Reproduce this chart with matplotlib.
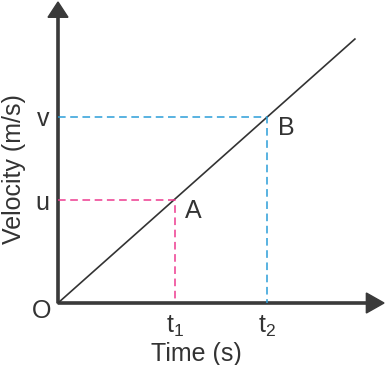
import matplotlib
matplotlib.use('Agg')
import matplotlib.pyplot as plt

plt.rcParams['font.family'] = ['Liberation Sans', 'DejaVu Sans']
plt.rcParams['mathtext.fontset'] = 'custom'
plt.rcParams['mathtext.rm'] = 'Liberation Sans'
plt.rcParams['mathtext.it'] = 'Liberation Sans'

# uniform acceleration: velocity-time line through the origin
time = [0, 3.98, 7.1, 10.1]
velocity = [0, 3.5, 6.33, 8.98]
t1, t2 = time[1], time[2]
u, v = velocity[1], velocity[2]

axis_color = '#3a3a3a'
text_color = '#333333'
pink = '#ee3a8f'
blue = '#2b9ed8'
fs = 18

fig = plt.figure(figsize=(3.85, 3.65), dpi=100)
ax = fig.add_axes([58 / 385, 62 / 365, 326 / 385, 301 / 365])
xmax, ymax = 11.09, 10.24
ax.set_xlim(0, xmax)
ax.set_ylim(0, ymax)
for s in ax.spines.values():
    s.set_visible(False)

# axes with arrow heads
ax.arrow(0, 0, xmax, 0, width=0.075, head_width=0.68, head_length=0.6,
         length_includes_head=True, color=axis_color, clip_on=False)
ax.arrow(0, 0, 0, ymax, width=0.075, head_width=0.68, head_length=0.52,
         length_includes_head=True, color=axis_color, clip_on=False)

# v-t line
ax.plot([time[0], time[-1]], [velocity[0], velocity[-1]], color='#333333', lw=1.2)

# guide lines
ax.plot([0, t1, t1], [u, u, 0], color=pink, lw=1.1, dashes=(5, 3))
ax.plot([0, t2, t2], [v, v, 0], color=blue, lw=1.1, dashes=(5, 3))

ax.set_xticks([t1, t2], [r'$\mathregular{t_1}$', r'$\mathregular{t_2}$'])
ax.set_yticks([u, v], ['u', 'v'])
ax.tick_params(length=0, labelsize=fs, colors=text_color)
ax.tick_params(axis='x', pad=8)
ax.tick_params(axis='y', pad=6)

ax.text(-0.55, -0.28, 'O', ha='center', va='center', fontsize=fs, color=text_color)
ax.text(t1 + 0.33, u + 0.05, 'A', ha='left', va='top', fontsize=fs, color=text_color)
ax.text(t2 + 0.38, v + 0.02, 'B', ha='left', va='top', fontsize=fs, color=text_color)

ax.set_xlabel('Time (s)', fontsize=fs, color=text_color)
ax.set_ylabel('Velocity (m/s)', fontsize=fs, color=text_color)
ax.xaxis.set_label_coords((196 - 58) / 326, (303 - 342) / 301)
ax.yaxis.set_label_coords((26 - 58) / 326, (303 - 169) / 301)

fig.savefig('out.png', dpi=100)
